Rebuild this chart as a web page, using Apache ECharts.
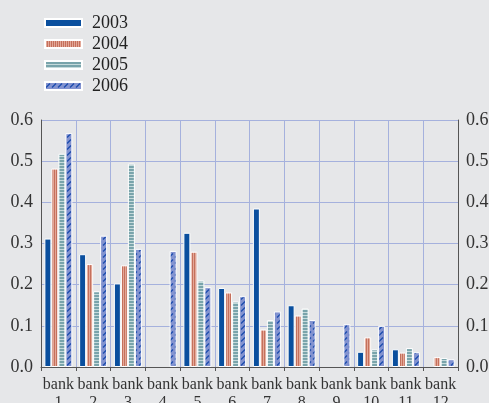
<!DOCTYPE html>
<html><head><meta charset="utf-8">
<script src="https://cdn.jsdelivr.net/npm/echarts@6/dist/echarts.min.js"></script>
<style>html,body{margin:0;padding:0;background:#e6e7e9;}#c{width:489px;height:403px;}</style>
</head><body><div id="c"></div>
<script>
const categories = ['bank 1','bank 2','bank 3','bank 4','bank 5','bank 6','bank 7','bank 8','bank 9','bank 10','bank 11','bank 12'];
const seriesNames = ['2003','2004','2005','2006'];
const v2003 = [0.312, 0.274, 0.203, null, 0.326, 0.192, 0.385, 0.150, null, 0.037, 0.043, null];
const v2004 = [0.482, 0.250, 0.247, null, 0.280, 0.181, 0.091, 0.125, null, 0.072, 0.035, 0.024];
const v2005 = [0.518, 0.184, 0.494, null, 0.210, 0.159, 0.114, 0.142, null, 0.043, 0.046, 0.022];
const v2006 = [0.568, 0.319, 0.287, 0.282, 0.194, 0.172, 0.135, 0.114, 0.104, 0.100, 0.036, 0.019];
const yTicks = [0, 0.1, 0.2, 0.3, 0.4, 0.5, 0.6];

function pat(w, h, draw) {
  const c = document.createElement('canvas'); c.width = w; c.height = h;
  const g = c.getContext('2d'); draw(g); return c;
}
const p2004 = pat(2, 4, g => { g.fillStyle = '#e3a898'; g.fillRect(0,0,2,4); g.fillStyle = '#c5705c'; g.fillRect(0,0,1,4); });
const p2005 = pat(4, 3, g => { g.fillStyle = '#79a4ab'; g.fillRect(0,0,4,3); g.fillStyle = '#c6dadb'; g.fillRect(0,0,4,1); });
const p2006 = pat(6, 6, g => { g.fillStyle = '#8393d0'; g.fillRect(0,0,6,6); g.strokeStyle = '#1a4aac'; g.lineWidth = 1.3; g.beginPath(); g.moveTo(1,5.5); g.lineTo(5,1.5); g.stroke(); });
const fills = ['#0a4f9e', {image: p2004, repeat: 'repeat'}, {image: p2005, repeat: 'repeat'}, {image: p2006, repeat: 'repeat'}];
const datas = [v2003, v2004, v2005, v2006];

const font = 'Liberation Serif';
const chart = echarts.init(document.getElementById('c'), null, {renderer: 'canvas'});
const yAxisCommon = {
  type: 'value', min: 0, max: 0.6, interval: 0.1,
  axisLine: {show: true, lineStyle: {color: '#555', width: 1}},
  axisTick: {show: false},
  axisLabel: {color: '#333', fontFamily: font, fontSize: 18, formatter: v => v.toFixed(1)}
};
chart.setOption({
  backgroundColor: '#e6e7e9',
  animation: false,
  legend: {
    orient: 'vertical', left: 39, top: 9, icon: 'rect',
    itemWidth: 37, itemHeight: 8, itemGap: 3,
    textStyle: {fontFamily: font, fontSize: 18, lineHeight: 17, color: '#222', padding: [0,0,0,5]},
    data: seriesNames
  },
  grid: {left: 41, right: 31, top: 120, bottom: 36, outerBoundsMode: 'none', containLabel: false},
  xAxis: {
    type: 'category', data: categories, boundaryGap: true,
    axisLine: {show: true, lineStyle: {color: '#555', width: 1}},
    axisTick: {show: true, length: 4, lineStyle: {color: '#555'}},
    splitLine: {show: true, lineStyle: {color: '#a5b1dd', width: 1}},
    axisLabel: {color: '#333', fontFamily: font, fontSize: 16, lineHeight: 18, margin: 9, interval: 0,
      formatter: v => v.replace(' ', '\n')}
  },
  yAxis: [
    Object.assign({}, yAxisCommon, {position: 'left', splitLine: {show: true, lineStyle: {color: '#a5b1dd', width: 1}}, axisLabel: Object.assign({}, yAxisCommon.axisLabel, {margin: 8})}),
    Object.assign({}, yAxisCommon, {position: 'right', splitLine: {show: false}, axisLabel: Object.assign({}, yAxisCommon.axisLabel, {margin: 8})})
  ],
  series: seriesNames.map((n, i) => ({
    name: n, type: 'bar', data: datas[i], barWidth: 7, barGap: '0%',
    itemStyle: {color: fills[i], borderColor: '#ffffff', borderWidth: 1}
  }))
});
</script></body></html>
